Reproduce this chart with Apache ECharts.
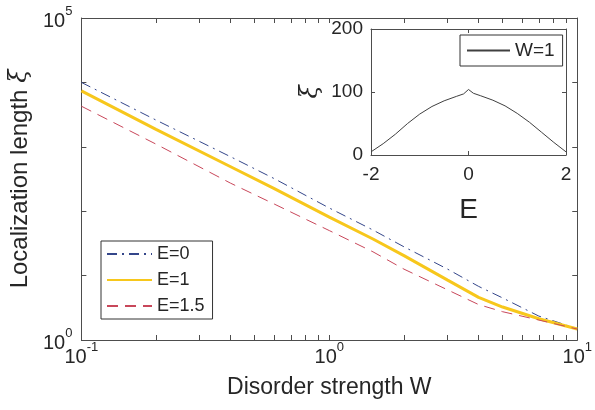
<!DOCTYPE html>
<html>
<head>
<meta charset="utf-8">
<script src="https://cdn.jsdelivr.net/npm/echarts@6.0.0/dist/echarts.min.js"></script>
<style>
html, body { margin: 0; padding: 0; background: #fff; }
#chart { width: 595px; height: 410px; }
</style>
</head>
<body>
<div id="chart"></div>
<script>
// disorder strength W and localization length for three energies
const W = [0.1, 0.2, 0.4, 0.6, 1, 1.5, 2, 3, 4, 5, 7, 10];
const xiE0 = [10000, 2600, 700, 320, 112, 51, 28, 12.6, 6.8, 4.5, 2.35, 1.5];
const xiE1 = [7400, 1860, 490, 224, 81, 37, 20.4, 8.5, 4.6, 3.25, 2.14, 1.48];
const xiE15 = [4270, 1100, 272, 129, 50, 23.4, 12.6, 6.0, 3.55, 2.75, 2.04, 1.48];

// inset: xi(E) at W=1
const insetE = [-2, -1.75, -1.5, -1.25, -1, -0.75, -0.5, -0.25, -0.1, 0, 0.1, 0.25, 0.5, 0.75, 1, 1.25, 1.5, 1.75, 2];
const insetXi = [5, 18, 33, 50, 65, 77, 86, 93, 97, 104, 98, 94, 87, 78, 66, 52, 36, 20, 5];

const wTicks = [0.1, 0.2, 0.3, 0.4, 0.5, 0.6, 0.7, 0.8, 0.9, 1, 2, 3, 4, 5, 6, 7, 8, 9, 10];
const wLabels = [0.1, 1, 10];
const xiTicks = [1, 10, 100, 1000, 10000, 100000];
const xiLabels = [1, 100000];

const font = 'Liberation Sans, Arial, sans-serif';
const axisColor = '#4d4d4d';
const textColor = '#262626';

function pow10(v) {
  return '{b|10}{s|' + Math.round(Math.log10(v)) + '}';
}
const powRich = {
  b: { fontSize: 20, fontFamily: font, color: textColor, verticalAlign: 'bottom', lineHeight: 26 },
  s: { fontSize: 13, fontFamily: font, color: textColor, verticalAlign: 'top', lineHeight: 26 }
};

function pair(xs, ys) {
  return xs.map((x, i) => [x, ys[i]]);
}

// box axis line, never pinned at zero
const boxLine = { onZero: false, lineStyle: { color: axisColor } };

const chart = echarts.init(document.getElementById('chart'));

chart.setOption({
  animation: false,
  backgroundColor: '#fff',
  grid: [
    { left: 81, top: 18, right: 14, bottom: 70, show: false },
    { left: 371, top: 29, width: 195, height: 126, show: true, backgroundColor: '#fff', borderWidth: 0 }
  ],
  xAxis: [
    {
      type: 'log', gridIndex: 0, min: 0.1, max: 10, position: 'bottom',
      name: 'Disorder strength W', nameLocation: 'middle', nameGap: 36,
      nameTextStyle: { fontSize: 23, fontFamily: font, color: textColor },
      axisLine: boxLine,
      axisTick: { inside: true, length: 5, customValues: wTicks, lineStyle: { color: axisColor } },
      axisLabel: { customValues: wLabels, margin: 1, formatter: pow10, rich: powRich },
      splitLine: { show: false }
    },
    {
      type: 'log', gridIndex: 0, min: 0.1, max: 10, position: 'top',
      axisLine: boxLine,
      axisTick: { inside: true, length: 5, customValues: wTicks, lineStyle: { color: axisColor } },
      axisLabel: { show: false },
      splitLine: { show: false }
    },
    {
      type: 'value', gridIndex: 1, min: -2, max: 2, interval: 2, position: 'bottom',
      name: 'E', nameLocation: 'middle', nameGap: 41,
      nameTextStyle: { fontSize: 28, fontFamily: font, color: textColor },
      axisLine: boxLine,
      axisTick: { inside: true, length: 4, lineStyle: { color: axisColor } },
      axisLabel: { margin: 10, fontSize: 19, fontFamily: font, color: textColor },
      splitLine: { show: false }
    },
    {
      type: 'value', gridIndex: 1, min: -2, max: 2, interval: 2, position: 'top',
      axisLine: boxLine,
      axisTick: { inside: true, length: 4, lineStyle: { color: axisColor } },
      axisLabel: { show: false },
      splitLine: { show: false }
    }
  ],
  yAxis: [
    {
      type: 'log', gridIndex: 0, min: 1, max: 100000, position: 'left',
      name: '{n|Localization length }{i|ξ}', nameLocation: 'middle', nameGap: 44,
      nameTextStyle: {
        fontSize: 24, fontFamily: font, color: textColor,
        rich: {
          n: { fontSize: 24, fontFamily: font, color: textColor },
          i: { fontSize: 24, fontFamily: 'DejaVu Serif, serif', fontStyle: 'italic', color: textColor }
        }
      },
      axisLine: boxLine,
      axisTick: { inside: true, length: 5, customValues: xiTicks, lineStyle: { color: axisColor } },
      axisLabel: { customValues: xiLabels, margin: 9, formatter: pow10, rich: powRich },
      splitLine: { show: false }
    },
    {
      type: 'log', gridIndex: 0, min: 1, max: 100000, position: 'right',
      axisLine: boxLine,
      axisTick: { inside: true, length: 5, customValues: xiTicks, lineStyle: { color: axisColor } },
      axisLabel: { show: false },
      splitLine: { show: false }
    },
    {
      type: 'value', gridIndex: 1, min: 0, max: 200, interval: 100, position: 'left',
      name: 'ξ', nameLocation: 'middle', nameGap: 48,
      nameTextStyle: { fontSize: 24, fontFamily: 'DejaVu Serif, serif', fontStyle: 'italic', color: textColor },
      axisLine: boxLine,
      axisTick: { inside: true, length: 4, lineStyle: { color: axisColor } },
      axisLabel: { margin: 8, fontSize: 19, fontFamily: font, color: textColor },
      splitLine: { show: false }
    },
    {
      type: 'value', gridIndex: 1, min: 0, max: 200, interval: 100, position: 'right',
      axisLine: boxLine,
      axisTick: { inside: true, length: 4, lineStyle: { color: axisColor } },
      axisLabel: { show: false },
      splitLine: { show: false }
    }
  ],
  legend: [
    {
      data: ['E=0', 'E=1', 'E=1.5'],
      orient: 'vertical', left: 101, top: 241,
      itemWidth: 45, itemHeight: 14, itemGap: 8,
      padding: [4, 8, 4, 5],
      borderColor: '#333', borderWidth: 1, backgroundColor: '#fff',
      itemStyle: { opacity: 0 },
      textStyle: { fontSize: 18, fontFamily: font, color: textColor }
    },
    {
      data: ['W=1'],
      orient: 'vertical', left: 460, top: 35,
      itemWidth: 43, itemHeight: 14,
      padding: [6, 8, 6, 6],
      borderColor: '#333', borderWidth: 1, backgroundColor: '#fff',
      itemStyle: { opacity: 0 },
      textStyle: { fontSize: 19, fontFamily: font, color: textColor }
    }
  ],
  series: [
    {
      name: 'E=0', type: 'line', xAxisIndex: 0, yAxisIndex: 0, symbol: 'none',
      data: pair(W, xiE0),
      lineStyle: { color: '#34468a', width: 1, type: [10, 5, 2, 5] },
      itemStyle: { color: '#34468a' }
    },
    {
      name: 'E=1', type: 'line', xAxisIndex: 0, yAxisIndex: 0, symbol: 'none',
      data: pair(W, xiE1),
      lineStyle: { color: '#f7c71c', width: 3 },
      itemStyle: { color: '#f7c71c' }
    },
    {
      name: 'E=1.5', type: 'line', xAxisIndex: 0, yAxisIndex: 0, symbol: 'none',
      data: pair(W, xiE15),
      lineStyle: { color: '#c8475a', width: 1, type: [11, 7] },
      itemStyle: { color: '#c8475a' }
    },
    {
      name: 'W=1', type: 'line', xAxisIndex: 2, yAxisIndex: 2, symbol: 'none',
      data: pair(insetE, insetXi),
      lineStyle: { color: '#404040', width: 1 },
      itemStyle: { color: '#404040' }
    }
  ]
});
</script>
</body>
</html>
